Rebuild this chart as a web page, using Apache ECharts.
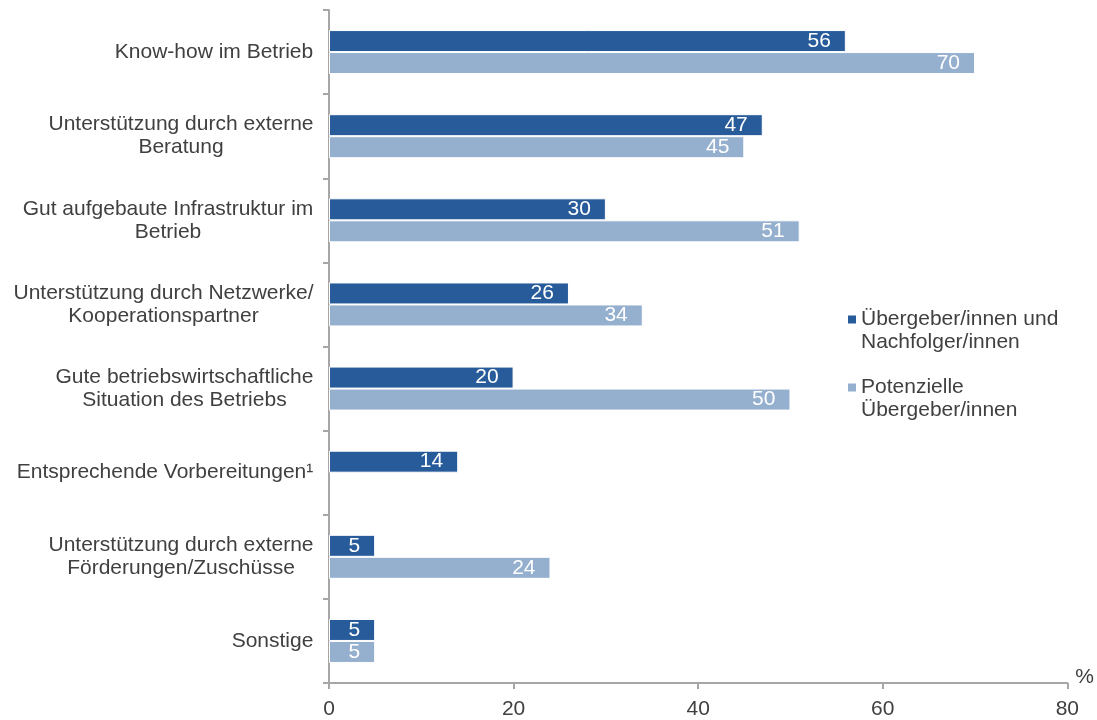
<!DOCTYPE html>
<html>
<head>
<meta charset="utf-8">
<style>
  html, body { margin: 0; padding: 0; background: #ffffff; }
  #chart { width: 1097px; height: 720px; }
</style>
<script src="https://cdn.jsdelivr.net/npm/echarts@6/dist/echarts.min.js"></script>
</head>
<body>
<div id="chart"></div>
<script>
// Categories (top to bottom), each line of a label as its own entry
const categories = [
  ['Know-how im Betrieb'],
  ['Unterstützung durch externe', 'Beratung'],
  ['Gut aufgebaute Infrastruktur im', 'Betrieb'],
  ['Unterstützung durch Netzwerke/', 'Kooperationspartner'],
  ['Gute betriebswirtschaftliche', 'Situation des Betriebs'],
  ['Entsprechende Vorbereitungen¹'],
  ['Unterstützung durch externe', 'Förderungen/Zuschüsse'],
  ['Sonstige']
];

const seriesNames = ['Übergeber/innen und\nNachfolger/innen', 'Potenzielle\nÜbergeber/innen'];
const uebergeberNachfolger = [56, 47, 30, 26, 20, 14, 5, 5];
const potenzielleUebergeber = [70, 45, 51, 34, 50, null, 24, 5];

const xTicks = [0, 20, 40, 60, 80];

const FONT = '"Liberation Sans", Arial, sans-serif';
const FONT_SIZE = 21;
const LINE_H = 23;
const TEXT_COLOR = '#404040';
const AXIS_COLOR = '#a6a6a6';
const COLORS = ['#285b9a', '#95afce'];

// Legend marker: a small square on the first text line of a two-line entry
const LEGEND_ICON = 'path://M0,0L8,0ZM0,7.5L8,7.5L8,15.5L0,15.5ZM0,46L8,46Z';

// Measure each category label so its lines can be centred against each other
const ctx = document.createElement('canvas').getContext('2d');
ctx.font = FONT_SIZE + 'px "Liberation Sans", Arial, sans-serif';
const rich = {};
categories.forEach((lines, i) => {
  const w = Math.max(...lines.map(l => ctx.measureText(l).width));
  rich['c' + i] = {
    width: Math.ceil(w) + 1,
    align: 'center',
    fontSize: FONT_SIZE,
    lineHeight: LINE_H,
    fontFamily: FONT,
    color: TEXT_COLOR
  };
});
const catKeys = categories.map((_, i) => 'cat' + i);

const chart = echarts.init(document.getElementById('chart'), null, { renderer: 'canvas' });

const barLabel = {
  show: true,
  position: 'insideRight',
  distance: 15,
  color: '#ffffff',
  fontSize: FONT_SIZE,
  fontFamily: FONT
};

chart.setOption({
  animation: false,
  backgroundColor: '#ffffff',
  textStyle: { fontFamily: FONT },
  grid: { left: 329, right: 26, top: 10, bottom: 36, containLabel: false },
  legend: {
    orient: 'vertical',
    left: 843,
    top: 303,
    itemWidth: 8,
    itemHeight: 46,
    itemGap: 22,
    icon: LEGEND_ICON,
    itemStyle: { borderWidth: 0 },
    data: seriesNames,
    textStyle: {
      fontSize: FONT_SIZE,
      lineHeight: LINE_H,
      color: TEXT_COLOR,
      fontFamily: FONT
    }
  },
  xAxis: {
    type: 'value',
    min: xTicks[0],
    max: xTicks[xTicks.length - 1],
    interval: xTicks[1] - xTicks[0],
    name: '%',
    nameLocation: 'end',
    nameGap: 8,
    nameTextStyle: {
      fontSize: FONT_SIZE,
      lineHeight: 12,
      color: TEXT_COLOR,
      fontFamily: FONT,
      align: 'left',
      verticalAlign: 'bottom'
    },
    axisLine: { show: true, lineStyle: { color: AXIS_COLOR, width: 2 } },
    axisTick: { show: true, length: 6, lineStyle: { color: AXIS_COLOR, width: 2 } },
    splitLine: { show: false },
    axisLabel: { fontSize: FONT_SIZE, color: TEXT_COLOR, fontFamily: FONT, margin: 16 }
  },
  yAxis: {
    type: 'category',
    inverse: true,
    data: catKeys,
    axisLine: { show: true, lineStyle: { color: AXIS_COLOR, width: 2 } },
    axisTick: { show: true, length: 6, lineStyle: { color: AXIS_COLOR, width: 2 } },
    axisLabel: {
      margin: 15,
      fontSize: FONT_SIZE,
      lineHeight: LINE_H,
      color: TEXT_COLOR,
      fontFamily: FONT,
      formatter: (val) => {
        const i = catKeys.indexOf(val);
        return categories[i].map(l => '{c' + i + '|' + l + '}').join('\n');
      },
      rich: rich
    }
  },
  series: [
    {
      name: seriesNames[0],
      type: 'bar',
      data: uebergeberNachfolger,
      barWidth: 22,
      barGap: '0%',
      itemStyle: { color: COLORS[0], borderColor: '#ffffff', borderWidth: 1 },
      label: barLabel
    },
    {
      name: seriesNames[1],
      type: 'bar',
      data: potenzielleUebergeber,
      barWidth: 22,
      barGap: '0%',
      itemStyle: { color: COLORS[1], borderColor: '#ffffff', borderWidth: 1 },
      label: barLabel
    }
  ]
});
</script>
</body>
</html>
